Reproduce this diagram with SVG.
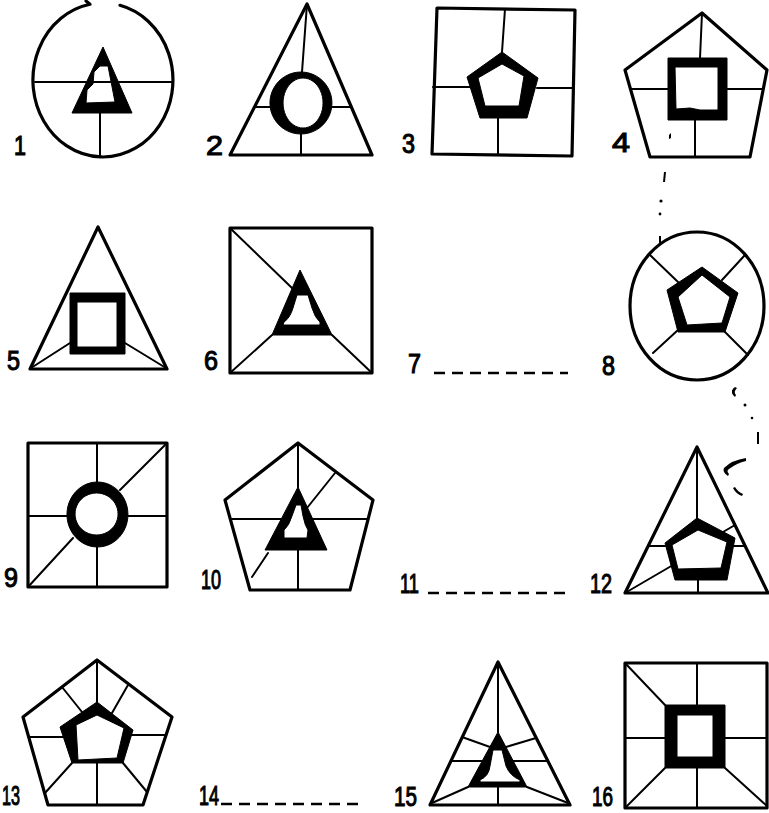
<svg xmlns="http://www.w3.org/2000/svg" width="769" height="813" viewBox="0 0 769 813">
<style>
.o{fill:none;stroke:#000;stroke-width:3.2;stroke-linejoin:round;stroke-linecap:round}
.l{fill:none;stroke:#000;stroke-width:2;stroke-linecap:round}
.f{fill:#000;fill-rule:evenodd;stroke:#000;stroke-width:1;stroke-linejoin:round}
.t{font-family:"Liberation Sans",Arial,sans-serif;font-size:27px;fill:#000;stroke:#000;stroke-width:1.1}
.d{fill:none;stroke:#000;stroke-width:2.6;stroke-dasharray:11 7}
.s{fill:#000}
</style>
<rect width="769" height="813" fill="#fff"/>
<g id="connectors">
<path class="d" d="M434,373 H568"/>
<path class="d" d="M428,593 H566"/>
<path class="d" d="M221,804 H362"/>
</g>
<g id="fig1">
<path class="o" d="M120,5.3 A70,77 0 1,1 90,4.3 L86,1"/>
<path class="l" d="M35,82 H172 M100,113 V157"/>
<path class="f" d="M103,47 L132,113 L72,113 Z M100,66 L108,66 L115,102 L86,103 L87,90 L93,84 L94,72 Z"/>
<text class="t" x="14" y="155" textLength="12" lengthAdjust="spacingAndGlyphs">1</text>
</g>
<g id="fig2">
<path class="o" d="M307,4 L372,155 L230,155 Z"/>
<path class="l" d="M307,4 L302,72 M255,107 H272 M331,107 H351 M301,133 V155"/>
<path class="f" d="M301,72 A31,31 0 1,1 300.9,72 Z M303,78 A20,25 0 1,0 303.1,78 Z"/>
<text class="t" x="206" y="155" textLength="17" lengthAdjust="spacingAndGlyphs">2</text>
</g>
<g id="fig3">
<path class="o" d="M437,8 L575,10 L572,156 L432,154 Z"/>
<path class="l" d="M505,9 L502,52 M498,118 V155 M433,87 H470 M537,88 H572"/>
<path class="f" d="M502,52 L538,78 L527,118 L480,118 L467,77 Z M502,64 L524,76 L519,106 L485,106 L478,78 Z"/>
<text class="t" x="402" y="153" textLength="13" lengthAdjust="spacingAndGlyphs">3</text>
</g>
<g id="fig4">
<path class="o" d="M702,13 L767,70 L750,157 L650,157 L625,70 Z"/>
<path class="l" d="M702,13 L700,58 M631,89 H668 M727,89 H763 M695,120 V157"/>
<path class="f" d="M668,58 H727 V120 H668 Z M675,67 H718 V110 H700 L690,108 L676,109 Z"/>
<path class="s" d="M669,135 l2,-2 l0,5 l-2,1 z"/>
<text class="t" x="612" y="152" textLength="18" lengthAdjust="spacingAndGlyphs">4</text>
</g>
<g id="fig5">
<path class="o" d="M98,227 L167,369 L30,369 Z"/>
<path class="l" d="M70,343 L31,368 M125,343 L166,368"/>
<path class="f" d="M70,293 H125 V354 H70 Z M77,302 H117 V347 H77 Z"/>
<text class="t" x="7" y="370" textLength="13" lengthAdjust="spacingAndGlyphs">5</text>
</g>
<g id="fig6">
<path class="o" d="M230,228 H372 V373 H230 Z"/>
<path class="l" d="M230,228 L292,288 M332,335 L372,373 M272,335 L230,373"/>
<path class="f" d="M300,270 L332,335 L272,335 Z M297,295 L308,295 L312,308 Q315,318 320,322 L320,325 L283,325 L284,322 Q290,318 293,308 Z"/>
<text class="t" x="204" y="370" textLength="14" lengthAdjust="spacingAndGlyphs">6</text>
</g>
<g id="fig7">
<text class="t" x="408" y="373" textLength="13" lengthAdjust="spacingAndGlyphs">7</text>
</g>
<g id="fig8">
<ellipse class="o" cx="697" cy="306" rx="67" ry="74"/>
<path class="l" d="M650,255 L678,282 M745,255 L722,280 M678,330 L653,353 M725,332 L748,355"/>
<path class="f" d="M702,267 L738,293 L725,332 L678,332 L667,290 Z M702,275 L730,297 L722,323 L687,325 L678,297 Z"/>
<text class="t" x="602" y="375" textLength="13" lengthAdjust="spacingAndGlyphs">8</text>
</g>
<g id="fig9">
<path class="o" d="M28,443 H167 V587 H28 Z"/>
<path class="l" d="M97,443 V482 M28,516 H67 M128,516 H167 M167,443 L120,490 M73,538 L28,587 M97,547 V587"/>
<path class="f" d="M97.5,482 A30.5,32.5 0 1,1 97.4,482 Z M96.5,493 A21.5,21 0 1,0 96.6,493 Z"/>
<text class="t" x="4" y="587" textLength="14" lengthAdjust="spacingAndGlyphs">9</text>
</g>
<g id="fig10">
<path class="o" d="M298,443 L373,500 L350,590 L250,590 L225,500 Z"/>
<path class="l" d="M298,443 V487 M335,473 L307,508 M230,519 H281 M312,519 H368 M298,550 V590 M252,577 L268,553"/>
<path class="f" d="M298,487 L327,550 L265,550 Z M296,505 L301,505 L303,516 Q305,526 308,530 L307,538 L284,538 L284,530 Q289,526 292,516 Z"/>
<text class="t" x="201" y="589" textLength="20" lengthAdjust="spacingAndGlyphs">10</text>
</g>
<g id="fig11">
<text class="t" x="400" y="593" textLength="19" lengthAdjust="spacingAndGlyphs">11</text>
</g>
<g id="fig12">
<path class="o" d="M697,447 L768,593 L625,593 Z"/>
<path class="l" d="M697,447 V518 M735,525 L723,532 M648,546 H665 M733,546 H745 M625,593 L673,565 M698,580 V593"/>
<path class="f" d="M697,518 L735,538 L727,580 L675,580 L665,543 Z M698,530 L727,542 L721,568 L678,569 L672,545 Z"/>
<text class="t" x="590" y="593" textLength="22" lengthAdjust="spacingAndGlyphs">12</text>
</g>
<g id="fig13">
<path class="o" d="M97,660 L172,717 L143,805 L48,805 L23,717 Z"/>
<path class="l" d="M97,660 V702 M128,685 L112,713 M62,687 L82,712 M29,737 H63 M131,735 H166 M72,763 L45,793 M123,763 L147,792 M97,763 V805"/>
<path class="f" d="M97,702 L133,730 L123,763 L72,763 L60,727 Z M97,715 L124,728 L117,758 L78,760 L76,725 Z"/>
<text class="t" x="2" y="805" textLength="18" lengthAdjust="spacingAndGlyphs">13</text>
</g>
<g id="fig14">
<text class="t" x="199" y="805" textLength="20" lengthAdjust="spacingAndGlyphs">14</text>
</g>
<g id="fig15">
<path class="o" d="M498,662 L570,805 L430,805 Z"/>
<path class="l" d="M498,662 V732 M462,737 L490,747 M536,738 L506,747 M451,761 H482 M513,761 H548 M432,803 L468,787 M568,803 L527,787 M498,787 V805"/>
<path class="f" d="M498,732 L527,787 L468,787 Z M493,750 L502,750 L506,766 Q510,776 520,780 L520,782 L480,782 L480,780 Q489,776 490,766 Z"/>
<text class="t" x="394" y="806" textLength="23" lengthAdjust="spacingAndGlyphs">15</text>
</g>
<g id="fig16">
<path class="o" d="M625,663 H767 V808 H625 Z"/>
<path class="l" d="M625,663 L665,705 M665,768 L625,808 M725,768 L767,806 M697,663 V705 M625,738 H665 M725,738 H767 M697,768 V808"/>
<path class="f" d="M665,705 H725 V768 H665 Z M677,715 H713 V757 H677 Z"/>
<text class="t" x="592" y="806" textLength="21" lengthAdjust="spacingAndGlyphs">16</text>
</g>
<g id="specks">
<path class="s" d="M664,172 l2,0 l-1,10 l-2,0 z"/>
<circle class="s" cx="661" cy="201" r="1.6"/>
<circle class="s" cx="660" cy="214" r="1.4"/>
<path class="s" d="M659,236 l2,0 l0,8 l-2,0 z"/>
<path class="s" d="M735,387 q-5,3 -2,8 l2,2 l1,-2 q-3,-3 1,-7 z"/>
<circle class="s" cx="745" cy="405" r="1.5"/>
<circle class="s" cx="752" cy="418" r="1.3"/>
<path class="s" d="M757,432 l2,0 l0,12 l-2,0 z"/>
<path class="s" d="M746,458 q-14,2 -22,10 q-2,4 4,8 l1,-2 q-3,-3 0,-5 q8,-6 17,-8 z"/>
<path class="s" d="M733,488 q3,6 9,8 l1,-2 q-5,-2 -8,-7 z"/>
</g>
</svg>
